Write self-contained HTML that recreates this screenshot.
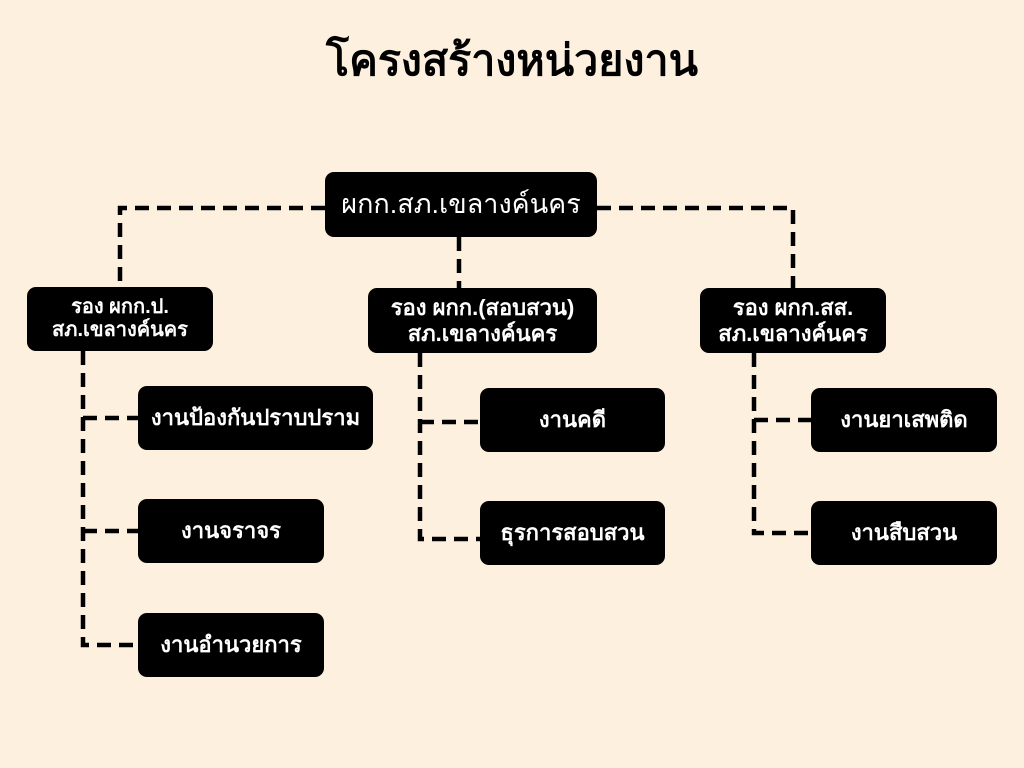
<!DOCTYPE html>
<html><head><meta charset="utf-8"><style>
body{margin:0;width:1024px;height:768px;background:#fdf0df;position:relative;overflow:hidden;font-family:"Liberation Sans","DejaVu Sans",sans-serif}
.t{position:absolute;left:0;width:1024px;top:26px;text-align:center;font-size:43px;font-weight:bold;color:#000}
.b{position:absolute;background:#000;color:#fff;border-radius:9px;display:flex;align-items:center;justify-content:center;text-align:center;font-weight:bold;font-size:22px;line-height:1.15}
svg{position:absolute;left:0;top:0}
</style></head><body>
<div class="t">โครงสร้างหน่วยงาน</div>
<svg width="1024" height="768"><g fill="none" stroke="#000" stroke-width="4.5" stroke-dasharray="14 8">
<path d="M325 208H120V287"/><path d="M597 208H793V288"/><path d="M459 237V288"/>
<path d="M83 351V645H138M83 418H138M83 531H138"/>
<path d="M420 353V539H480M420 422H480"/>
<path d="M754 353V533H811M754 420H811"/>
</g></svg>
<div class="b" style="left:325px;top:172px;width:272px;height:65px;font-size:27px;font-weight:normal">ผกก.สภ.เขลางค์นคร</div>
<div class="b" style="left:27px;top:287px;width:186px;height:64px;font-size:20px">รอง ผกก.ป.<br>สภ.เขลางค์นคร</div>
<div class="b" style="left:368px;top:288px;width:229px;height:65px">รอง ผกก.(สอบสวน)<br>สภ.เขลางค์นคร</div>
<div class="b" style="left:700px;top:288px;width:186px;height:65px">รอง ผกก.สส.<br>สภ.เขลางค์นคร</div>
<div class="b" style="left:138px;top:386px;width:235px;height:64px">งานป้องกันปราบปราม</div>
<div class="b" style="left:138px;top:499px;width:186px;height:64px">งานจราจร</div>
<div class="b" style="left:138px;top:613px;width:186px;height:64px">งานอำนวยการ</div>
<div class="b" style="left:480px;top:388px;width:185px;height:64px">งานคดี</div>
<div class="b" style="left:480px;top:501px;width:185px;height:64px">ธุรการสอบสวน</div>
<div class="b" style="left:811px;top:388px;width:186px;height:64px">งานยาเสพติด</div>
<div class="b" style="left:811px;top:501px;width:186px;height:64px">งานสืบสวน</div>
</body></html>
